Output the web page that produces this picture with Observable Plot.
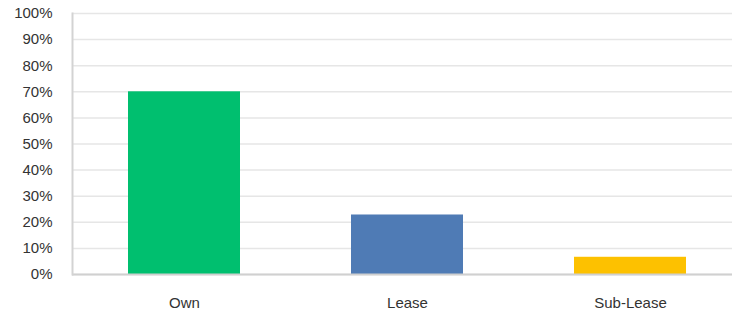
<!DOCTYPE html>
<html><head><meta charset="utf-8">
<script src="https://cdn.jsdelivr.net/npm/d3@7"></script>
<script src="https://cdn.jsdelivr.net/npm/@observablehq/plot@0.6"></script>
<style>body{margin:0;background:#fff}</style>
</head><body><div id="chart"></div>
<script>
const categories = ["Own", "Lease", "Sub-Lease"];
const values = [0.70, 0.228, 0.066];
const colors = ["#00BF6F", "#4F7BB5", "#FDC100"];
const yTicks = [0, 0.1, 0.2, 0.3, 0.4, 0.5, 0.6, 0.7, 0.8, 0.9, 1.0];

const data = categories.map((c, i) => ({category: c, value: values[i], color: colors[i]}));

const chart = Plot.plot({
  width: 732,
  height: 318,
  marginLeft: 72,
  marginTop: 13,
  marginBottom: 44,
  marginRight: 0,
  style: {fontFamily: "'Liberation Sans', Arial, sans-serif", fontSize: "15px", color: "#333", background: "#fff"},
  x: {domain: categories, range: [72, 742], paddingInner: 0.498, paddingOuter: 0.25, align: 0.5, label: null},
  y: {domain: [0, 1], label: null},
  marks: [
    Plot.gridY(yTicks, {stroke: "#e6e6e6", strokeOpacity: 1, strokeWidth: 1.5}),
    Plot.barY(data, {x: "category", y: "value", fill: "color"}),
    Plot.ruleY([0], {stroke: "#d0d0d0", strokeWidth: 2}),
    Plot.frame({anchor: "left", stroke: "#d3d3d3", strokeWidth: 2}),
    Plot.axisY(yTicks, {tickFormat: d3.format(".0%"), tickSize: 0, tickPadding: 20, fontSize: 15, label: null}),
    Plot.axisX({tickSize: 0, tickPadding: 23, fontSize: 15, label: null})
  ]
});
document.getElementById("chart").appendChild(chart);
</script>
</body></html>
